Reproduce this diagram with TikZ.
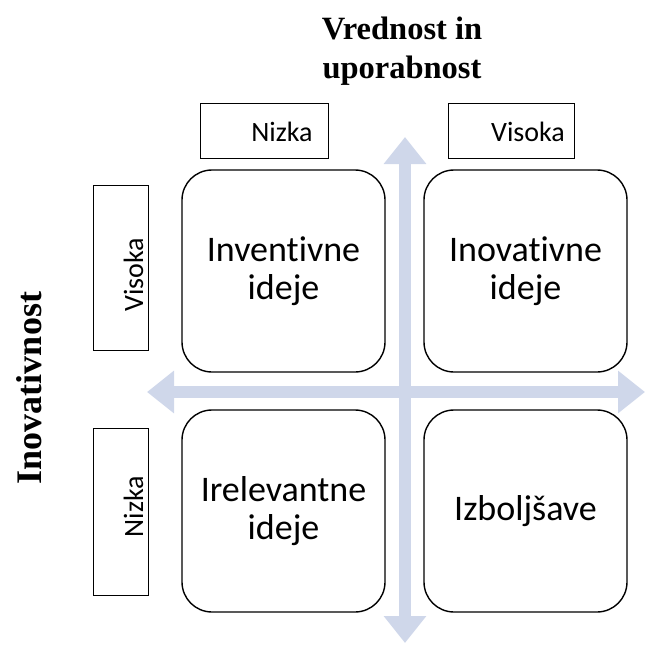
\documentclass[tikz,border=0pt]{standalone}
\usepackage{fontspec}
\setmainfont{Liberation Serif}
\setsansfont{Carlito}[Ligatures=CommonOff]
\usetikzlibrary{arrows.meta}
\definecolor{axisblue}{RGB}{207,215,234}

\begin{document}
\begin{tikzpicture}[x=1pt,y=-1pt,line width=.9pt,
  quad/.style={draw,line width=1.4pt,rounded corners=30pt,minimum width=203pt,minimum height=202pt,align=center,font=\sffamily\fontsize{36}{38}\selectfont},
  levelbox/.style={draw,line width=1pt,inner sep=0pt},
  level/.style={font=\sffamily\fontsize{28}{32}\selectfont},
  axis/.style={axisblue,line width=12pt,{Triangle[width=41pt,length=27pt]}-{Triangle[width=41pt,length=27pt]}},
  title/.style={font=\bfseries\fontsize{32.5}{39}\selectfont}]
\useasboundingbox (0,0) rectangle (651,646);
% axes
\coordinate (north) at (405,137);\coordinate (south) at (405,643);
\coordinate (west) at (147,392);\coordinate (east) at (645,392);
\draw[axis] (south)--(north);
\draw[axis] (west)--(east);
% quadrants
\node[quad] (inv) at (283.5,271) {Inventivne\\ideje};
\node[quad] (ino) at (525.5,271) {Inovativne\\ideje};
\node[quad] (irr) at (283.5,511) {Irelevantne\\ideje};
\node[quad] (izb) at (525.5,511) {Izboljšave};
% levels
\node[levelbox,minimum width=128pt,minimum height=55pt] (xlow) at (264,130.5) {};
\node[levelbox,minimum width=126pt,minimum height=55pt] (xhigh) at (511,130.5) {};
\node[levelbox,minimum width=55pt,minimum height=165pt] (yhigh) at (120.5,267.5) {};
\node[levelbox,minimum width=55pt,minimum height=167pt] (ylow) at (120.5,511.5) {};
\node[level] (xlowtext) at ([xshift=18pt,yshift=-1pt]xlow.center) {Nizka};
\node[level] (xhightext) at ([xshift=17pt,yshift=-1pt]xhigh.center) {Visoka};
\node[level,rotate=90] (yhightext) at ([xshift=13pt,yshift=-7pt]yhigh.center) {Visoka};
\node[level,rotate=90] (ylowtext) at ([xshift=13pt,yshift=5pt]ylow.center) {Nizka};
% titles
\node[title,align=center] (xtitle) at (402,51) {Vrednost in\\uporabnost};
\node[title,rotate=90,font=\bfseries\fontsize{36}{40}\selectfont] (ytitle) at (29,388) {Inovativnost};
\end{tikzpicture}
\end{document}
